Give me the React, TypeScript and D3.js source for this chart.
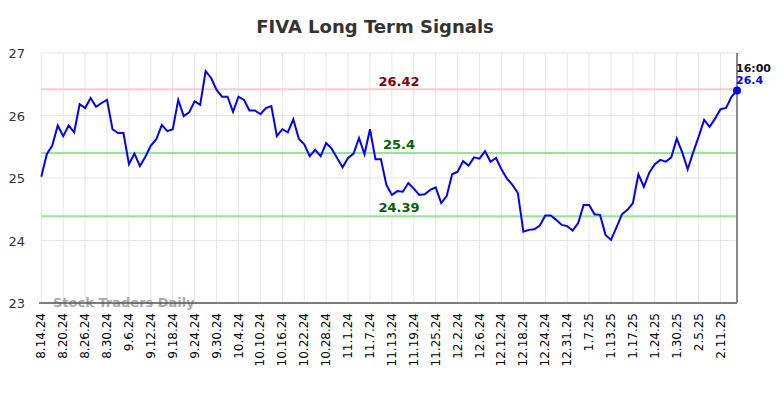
import React from "react";
import * as d3 from "d3";

const title = "FIVA Long Term Signals";

const tickLabels = [
  "8.14.24", "8.20.24", "8.26.24", "8.30.24", "9.6.24", "9.12.24", "9.18.24", "9.24.24",
  "9.30.24", "10.4.24", "10.10.24", "10.16.24", "10.22.24", "10.28.24", "11.1.24", "11.7.24",
  "11.13.24", "11.19.24", "11.25.24", "12.2.24", "12.6.24", "12.12.24", "12.18.24", "12.24.24",
  "12.31.24", "1.7.25", "1.13.25", "1.17.25", "1.24.25", "1.30.25", "2.5.25", "2.11.25",
];

const values = [
  25.02, 25.38, 25.52, 25.84, 25.67, 25.84, 25.73, 26.18, 26.12, 26.28,
  26.14, 26.20, 26.25, 25.78, 25.72, 25.72, 25.22, 25.39, 25.19, 25.34,
  25.52, 25.62, 25.85, 25.75, 25.78, 26.25, 25.99, 26.05, 26.23, 26.17,
  26.71, 26.60, 26.41, 26.30, 26.30, 26.06, 26.30, 26.25, 26.08, 26.08,
  26.02, 26.12, 26.15, 25.67, 25.78, 25.73, 25.94, 25.63, 25.54, 25.35,
  25.45, 25.35, 25.56, 25.47, 25.32, 25.17, 25.32, 25.39, 25.64, 25.38,
  25.78, 25.30, 25.30, 24.89, 24.73, 24.79, 24.78, 24.92, 24.83, 24.73,
  24.74, 24.81, 24.85, 24.60, 24.71, 25.06, 25.10, 25.27, 25.20, 25.33,
  25.31, 25.43, 25.26, 25.32, 25.14, 24.99, 24.89, 24.76, 24.14, 24.17,
  24.18, 24.24, 24.40, 24.40, 24.33, 24.25, 24.23, 24.16, 24.28, 24.57,
  24.57, 24.42, 24.41, 24.09, 24.01, 24.21, 24.42, 24.49, 24.60, 25.06,
  24.86, 25.09, 25.22, 25.29, 25.26, 25.33, 25.63, 25.41, 25.14, 25.41,
  25.66, 25.93, 25.82, 25.95, 26.10, 26.12, 26.30, 26.40,
];

const yTicks = [23, 24, 25, 26, 27];
const resistance = 26.42;
const supports = [25.4, 24.39];
const lastTime = "16:00";
const lastLabel = "26.4";

export default function App() {
  const W = 784, H = 398;
  const left = 41.3, right = 737, top = 53, bottom = 303;
  const x = d3.scaleLinear().domain([0, values.length - 1]).range([left, right]);
  const y = d3.scaleLinear().domain([23, 27]).range([bottom, top]);
  const line = d3.line<number>().x((_, i) => x(i)).y((d) => y(d));
  const tickIdx = tickLabels.map((_, i) => i * 4);
  const lastI = values.length - 1;
  const font = "DejaVu Sans, sans-serif";
  const labelX = 399;

  return (
    <svg width={W} height={H} style={{ position: "absolute", left: 0, top: 0, background: "#fff" }}>
      <rect width={W} height={H} fill="#fff" />
      <text x={375} y={33} textAnchor="middle" fontFamily={font} fontWeight="bold" fontSize={18} fill="#333">
        {title}
      </text>
      {tickIdx.map((i) => (
        <line key={"v" + i} x1={x(i)} x2={x(i)} y1={top} y2={bottom} stroke="#e6e6e6" strokeWidth={1} />
      ))}
      {yTicks.map((t) => (
        <line key={"h" + t} x1={left} x2={right} y1={y(t)} y2={y(t)} stroke="#e6e6e6" strokeWidth={1} />
      ))}
      {yTicks.map((t) => (
        <text key={"yl" + t} x={25} y={y(t) + 5} textAnchor="end" fontFamily={font} fontSize={13} fill="#333">
          {t}
        </text>
      ))}
      <line x1={left} x2={right} y1={y(resistance)} y2={y(resistance)} stroke="#ffc8c8" strokeWidth={2} />
      {supports.map((s) => (
        <line key={"s" + s} x1={left} x2={right} y1={y(s)} y2={y(s)} stroke="#90e890" strokeWidth={2} />
      ))}
      <text x={labelX} y={y(resistance) - 3} textAnchor="middle" fontFamily={font} fontWeight="bold" fontSize={13} fill="#8b0000">
        {resistance}
      </text>
      {supports.map((s) => (
        <text key={"sl" + s} x={labelX} y={y(s) - 4} textAnchor="middle" fontFamily={font} fontWeight="bold" fontSize={13} fill="#006400">
          {s}
        </text>
      ))}
      <text x={53} y={307} fontFamily={font} fontWeight="bold" fontSize={13} fill="#aaa">
        Stock Traders Daily
      </text>
      <line x1={39} x2={right} y1={bottom} y2={bottom} stroke="#555" strokeWidth={1.5} />
      <line x1={right} x2={right} y1={top} y2={bottom} stroke="#888" strokeWidth={2} />
      {tickIdx.map((i, k) => (
        <text
          key={"xl" + i}
          transform={`translate(${x(i) + 4},${313}) rotate(-90)`}
          textAnchor="end"
          fontFamily={font}
          fontSize={12}
          fill="#000"
        >
          {tickLabels[k]}
        </text>
      ))}
      <path d={line(values) || ""} fill="none" stroke="#0000ff" strokeWidth={2} />
      <circle cx={x(lastI)} cy={y(values[lastI])} r={4} fill="#0000ff" />
      <text x={736} y={72} fontFamily={font} fontWeight="bold" fontSize={11} fill="#111">
        {lastTime}
      </text>
      <text x={736} y={84} fontFamily={font} fontWeight="bold" fontSize={11} fill="#0000ff">
        {lastLabel}
      </text>
    </svg>
  );
}
